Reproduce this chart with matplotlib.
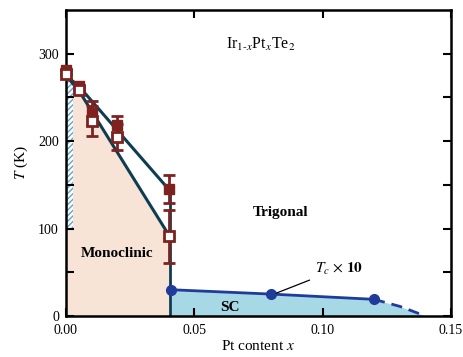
import numpy as np
import matplotlib
matplotlib.use('Agg')
import matplotlib.pyplot as plt

plt.rcParams['font.family'] = ['Liberation Serif', 'DejaVu Serif']
plt.rcParams['mathtext.fontset'] = 'stix'

# Structural transition points (filled and open squares)
x_fill = [0.0, 0.005, 0.01, 0.02, 0.04]
T_fill = [281, 263, 232, 218, 145]
err_fill = [0, 0, 14, 11, 16]
x_open = [0.0, 0.005, 0.01, 0.02, 0.04]
T_open = [277, 258, 223, 205, 91]
err_open = [0, 0, 17, 15, 30]

# phase boundary lines
x_upper = [0.0, 0.005, 0.04]
T_upper = [275, 263, 145]
x_lower = [0.0, 0.005, 0.04]
T_lower = [275, 258, 93]

# superconducting Tc (x10)
x_sc = [0.041, 0.08, 0.12]
T_sc = [30, 25, 19]
x_dash = [0.12, 0.13, 0.14]
T_dash = [19, 11, 0]

red = '#7e2220'
teal = '#0e3d52'
blue = '#1f3c9a'

fig = plt.figure(figsize=(4.64, 3.57), dpi=100)
ax = fig.add_axes([0.142, 0.115, 0.830, 0.857])

# Monoclinic region
ax.fill_between(x_lower, T_lower, 0, color='#f8e4d6', lw=0, zorder=0)
# hatched strip near x=0
ax.fill_between([0.0, 0.0026], 100, 272, facecolor='white', edgecolor='#5aa6d6',
                hatch='//////', lw=0, zorder=1)
# SC region
ax.fill_between(x_sc + x_dash[1:], T_sc + T_dash[1:], 0, color='#a7d8e6', lw=0, zorder=0)

ax.plot(x_upper, T_upper, color=teal, lw=2.2, zorder=2)
ax.plot(x_lower, T_lower, color=teal, lw=2.2, zorder=2)
ax.plot([0.0405, 0.0405], [145, 0], color=teal, lw=2, zorder=2)

ax.plot(x_sc, T_sc, color=blue, lw=2, marker='o', ms=7, zorder=3)
ax.plot(x_dash, T_dash, color=blue, lw=2, ls=(0, (4, 2.5)), zorder=3)

ax.errorbar(x_fill, T_fill, yerr=err_fill, fmt='s', color=red, ms=7.5, mfc=red,
            mec=red, elinewidth=2, capsize=4, capthick=2, zorder=4, clip_on=False)
ax.errorbar(x_open, T_open, yerr=err_open, fmt='s', color=red, ms=7.5, mfc='white',
            mec=red, mew=2, elinewidth=2, capsize=4, capthick=2, zorder=5, clip_on=False)

ax.text(0.076, 311, r'Ir$_{1\text{-}x}$Pt$_x$Te$_2$', fontsize=11.5, ha='center', va='center')
ax.text(0.0835, 118, 'Trigonal', fontsize=11, fontweight='bold', ha='center', va='center')
ax.text(0.02, 71, 'Monoclinic', fontsize=11, fontweight='bold', ha='center', va='center')
ax.text(0.064, 10, 'SC', fontsize=11, fontweight='bold', ha='center', va='center')
ax.annotate(r'$T_c$ $\times$ $\mathbf{10}$', xy=(0.081, 25), xytext=(0.097, 45),
            fontsize=11, ha='left', va='bottom',
            arrowprops=dict(arrowstyle='-', color='black', lw=0.9))

ax.set_xlim(0, 0.15)
ax.set_ylim(0, 350)
ax.set_xticks([0.0, 0.05, 0.10, 0.15])
ax.set_xticklabels(['0.00', '0.05', '0.10', '0.15'])
ax.set_yticks([0, 100, 200, 300])
ax.set_yticks([50, 150, 250], minor=True)
ax.tick_params(which='both', direction='in', top=True, right=True, width=1.5, labelsize=10)
ax.tick_params(which='both', length=6)
ax.tick_params(axis='x', pad=6)
ax.tick_params(axis='y', pad=5)
for s in ax.spines.values():
    s.set_linewidth(1.8)

ax.set_xlabel(r'Pt content $x$', fontsize=11, labelpad=1)
ax.set_ylabel(r'$T$ (K)', fontsize=11, labelpad=6)

fig.savefig('out.png', dpi=100)
